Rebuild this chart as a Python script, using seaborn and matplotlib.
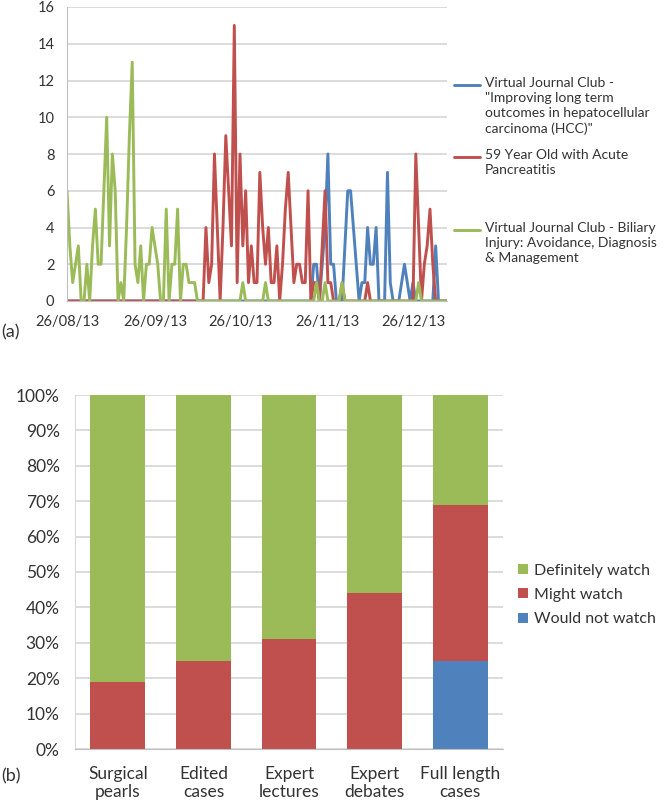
import numpy as np
import pandas as pd
import seaborn as sns
import matplotlib.pyplot as plt
import matplotlib.dates as mdates
from matplotlib.lines import Line2D
from matplotlib.patches import Patch
from matplotlib.ticker import PercentFormatter

sns.set_style('white')
plt.rcParams['font.family'] = ['Lato', 'DejaVu Sans']

# (a) daily views of each video, one value per day from 26/08/13
start_date = '2013-08-26'
hcc_views = [0] * 86 + [
    0, 2, 2, 0,
    2, 4, 8, 2, 2, 0, 0, 0, 3, 6,
    6, 4, 2, 0, 1, 1, 4, 2, 2, 4,
    0, 0, 0, 7, 1, 0, 0, 0, 1, 2,
    1, 0, 1, 0, 0, 0, 0, 0, 0, 0,
    3, 0, 0, 0, 0]
pancreatitis_views = [0] * 48 + [
    0, 4,
    1, 2, 8, 4, 0, 4, 9, 6, 3, 15,
    1, 8, 3, 6, 1, 3, 1, 1, 7, 4,
    2, 4, 1, 1, 3, 0, 2, 5, 7, 4,
    1, 2, 2, 1, 1, 6, 0, 1, 1, 0,
    3, 6, 1, 1, 0, 0, 0, 1, 0, 0,
    0, 0, 0, 0, 0, 0, 1, 0, 0, 0,
    0, 0, 0, 0, 0, 0, 0, 0, 0, 0,
    0, 0, 0, 8, 4, 0, 2, 3, 5, 2,
    0, 0, 0, 0, 0]
biliary_views = [
    6, 3, 1, 2, 3, 0, 0, 2, 0, 3,
    5, 2, 2, 6, 10, 3, 8, 6, 0, 1,
    0, 4, 9, 13, 2, 1, 3, 0, 2, 2,
    4, 3, 2, 0, 0, 5, 0, 2, 2, 5,
    0, 2, 2, 1, 1, 1, 0, 0, 0, 0,
    0, 0, 0, 0, 0, 0, 0, 0, 0, 0,
    0, 0, 1, 0, 0, 0, 0, 0, 0, 0,
    1, 0, 0, 0, 0, 0, 0, 0, 0, 0,
    0, 0, 0, 0, 0, 0, 0, 0, 1, 0,
    0, 1, 0, 0, 0, 0, 0, 1, 0, 0,
    0, 0, 0, 0, 0, 0, 0, 0, 0, 0,
    0, 0, 0, 0, 0, 0, 0, 0, 0, 0,
    0, 0, 0, 0, 1, 0, 0, 0, 0, 0,
    0, 0, 0, 0, 0]
video_names = [
    'Virtual Journal Club -\n"Improving long term\noutcomes in hepatocellular\ncarcinoma (HCC)"',
    '59 Year Old with Acute\nPancreatitis',
    'Virtual Journal Club - Biliary\nInjury: Avoidance, Diagnosis\n& Management',
]
video_colors = ['#4F81BD', '#C0504D', '#9BBB59']

# (b) survey answers per video format (%)
formats = ['Surgical\npearls', 'Edited\ncases', 'Expert\nlectures', 'Expert\ndebates', 'Full length\ncases']
would_not_watch = [0, 0, 0, 0, 25]
might_watch = [19, 25, 31, 44, 44]
definitely_watch = [81, 75, 69, 56, 31]
answer_names = ['Definitely watch', 'Might watch', 'Would not watch']
answer_colors = ['#9BBB59', '#C0504D', '#4F81BD']

text_col = '#333333'
grid_col = '#D9D9D9'
axis_col = '#BFBFBF'

fig = plt.figure(figsize=(6.66, 8.06), dpi=100)
ax1 = fig.add_axes([67 / 666, 1 - 301 / 806, 380 / 666, 294 / 806])
ax2 = fig.add_axes([75 / 666, 1 - 749 / 806, 428 / 666, 354 / 806])

# ---- (a) line chart
n_days = len(biliary_views)
dates = pd.date_range(start_date, periods=n_days, freq='D')
df = pd.DataFrame({
    'date': np.tile(dates.values, 3),
    'views': hcc_views + pancreatitis_views + biliary_views,
    'video': np.repeat(video_names, n_days),
})
sns.lineplot(data=df, x='date', y='views', hue='video', hue_order=video_names,
             palette=video_colors, linewidth=2.1, legend=False, ax=ax1)

ax1.set_xlim(dates[0], dates[-1])
ax1.set_ylim(0, 16)
ax1.set_yticks(range(0, 17, 2))
ax1.set_xticks(pd.date_range(start_date, periods=5, freq=pd.DateOffset(months=1)))
ax1.xaxis.set_major_formatter(mdates.DateFormatter('%d/%m/%y'))
ax1.set_xlabel('')
ax1.set_ylabel('')
ax1.yaxis.grid(True, color=grid_col, linewidth=1.3)
ax1.set_axisbelow(True)
for s in ['top', 'right']:
    ax1.spines[s].set_visible(False)
ax1.spines['left'].set_color(axis_col)
ax1.spines['bottom'].set_color(axis_col)
ax1.tick_params(axis='y', length=0, pad=9, labelsize=10.5, labelcolor=text_col)
ax1.tick_params(axis='x', length=4, color=axis_col, pad=6, labelsize=10.5, labelcolor=text_col)

# legend of (a), first line of each label next to its line
legend_tops = [85, 157, 230]
for name, col, y in zip(video_names, video_colors, legend_tops):
    fig.add_artist(Line2D([454 / 666, 480 / 666], [1 - y / 806] * 2, color=col, linewidth=2.1))
    fig.text(485 / 666, 1 - (y - 8) / 806, name, va='top', ha='left', fontsize=10,
             color=text_col, linespacing=1.3)

# ---- (b) stacked 100% bars
df_b = pd.DataFrame({
    'format': formats,
    'top': np.array(definitely_watch) + np.array(might_watch) + np.array(would_not_watch),
    'mid': np.array(might_watch) + np.array(would_not_watch),
    'low': would_not_watch,
})
for col, colour in zip(['top', 'mid', 'low'], answer_colors):
    sns.barplot(data=df_b, x='format', y=col, color=colour, saturation=1,
                width=0.64, linewidth=0, edgecolor='none', ax=ax2)

ax2.set_xlim(-0.5, 4.5)
ax2.set_ylim(0, 100)
ax2.set_yticks(range(0, 101, 10))
ax2.yaxis.set_major_formatter(PercentFormatter(decimals=0))
ax2.set_xlabel('')
ax2.set_ylabel('')
ax2.yaxis.grid(True, color=grid_col, linewidth=1.3)
ax2.set_axisbelow(True)
for s in ['top', 'right']:
    ax2.spines[s].set_visible(False)
ax2.spines['left'].set_color(grid_col)
ax2.spines['bottom'].set_color(axis_col)
ax2.tick_params(axis='y', length=0, pad=11, labelsize=12.5, labelcolor=text_col)
ax2.tick_params(axis='x', length=0, pad=12, labelsize=12.5, labelcolor=text_col)
for lab in ax2.get_xticklabels():
    lab.set_linespacing(1.2)

handles = [Patch(facecolor=c, edgecolor='none') for c in answer_colors]
ax2.legend(handles, answer_names, loc='center left', bbox_to_anchor=(1.035, 0.435),
           frameon=False, borderaxespad=0, borderpad=0, handlelength=0.6,
           handleheight=0.6, handletextpad=0.4, labelspacing=0.65,
           fontsize=11.5, labelcolor=text_col)

fig.text(0.002, 1 - 332 / 806, '(a)', va='center', ha='left', fontsize=13, color=text_col)
fig.text(0.002, 1 - 776 / 806, '(b)', va='center', ha='left', fontsize=13, color=text_col)

fig.savefig('out.png', dpi=100)
